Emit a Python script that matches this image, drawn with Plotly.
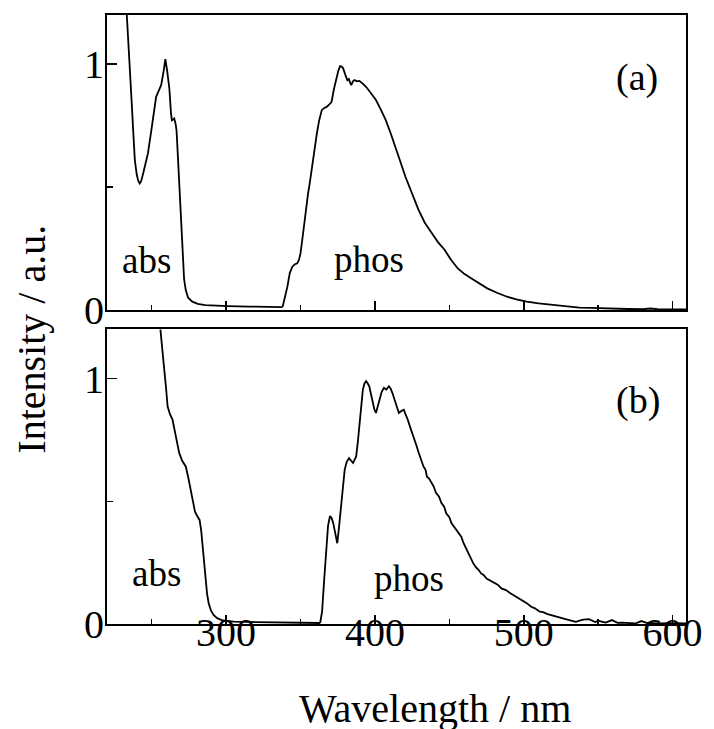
import plotly.graph_objects as go

# ---------------- data ----------------
abs_a_x = [226, 228, 230, 233.3, 234.5, 235.5, 236.5, 237.5, 238.7, 240, 241, 242, 243, 244.5, 246,
           247.5, 250, 253, 255, 256.4, 258, 259.2, 260.5, 261.9, 263, 263.6, 264.5, 265.2, 266,
           266.7, 267.5, 268.5, 269.6, 270.7, 271.8, 272.9, 274.5, 277.3, 281, 286, 295, 301.5,
           315, 330, 338]
abs_a_y = [2.2, 1.9, 1.6, 1.2, 1.05, 0.94, 0.854, 0.74, 0.61, 0.55, 0.525, 0.515, 0.525, 0.56, 0.6,
           0.637, 0.74, 0.867, 0.895, 0.915, 0.97, 1.02, 0.97, 0.90, 0.80, 0.772, 0.775, 0.779, 0.76,
           0.732, 0.64, 0.515, 0.36, 0.203, 0.125, 0.081, 0.05, 0.034, 0.025, 0.02, 0.017, 0.016,
           0.014, 0.012, 0.012]

phos_a_x = [338, 339.5, 341.2, 342.8, 344.5, 346, 347.8, 349, 350, 351.5, 353.3, 355, 356.2, 357.7,
            359.3, 361, 362.5, 364.3, 366, 367.6, 369.2, 370.9, 372.5, 374.2, 375.5, 376.6, 377.6,
            378.6, 379.5, 380.5, 381.5, 382.5, 383.3, 384.1, 385.2, 386.3, 388, 389.6, 392, 394,
            397, 400.7, 404, 407.3, 410.5, 413.9, 417, 420.5, 425, 429.3, 433.5, 438.1, 442.5,
            446.9, 451, 455.7, 460, 464.6, 470, 475.5, 482, 488.8, 495, 502, 510, 519.6, 528,
            537.3, 545, 552.7, 560, 570, 580, 585, 590, 600, 609]
phos_a_y = [0.013, 0.05, 0.095, 0.15, 0.176, 0.185, 0.19, 0.205, 0.23, 0.3, 0.393, 0.47, 0.515, 0.583,
            0.65, 0.718, 0.77, 0.813, 0.822, 0.826, 0.835, 0.847, 0.9, 0.948, 0.975, 0.992, 0.99,
            0.984, 0.965, 0.95, 0.935, 0.94, 0.925, 0.915, 0.93, 0.935, 0.93, 0.932, 0.92, 0.908,
            0.885, 0.854, 0.815, 0.772, 0.72, 0.664, 0.605, 0.542, 0.47, 0.407, 0.355, 0.312, 0.275,
            0.244, 0.205, 0.169, 0.147, 0.129, 0.107, 0.088, 0.07, 0.054, 0.043, 0.034, 0.027, 0.02,
            0.015, 0.01, 0.009, 0.007, 0.005, 0.004, 0.003, 0.006, 0.003, 0.002, 0.002]

abs_b_x = [250, 253, 255.9, 257.3, 258.6, 259.7, 260.7, 262.3, 264, 266, 268.5, 270.5, 272.9, 274.5,
           276.2, 277.7, 279.1, 280.6, 282.2, 283.3, 284.3, 285.2, 286.1, 287.2, 288.3, 289.8,
           291.6, 294, 297.1, 305, 320, 340, 355, 363.2]
abs_b_y = [1.6, 1.38, 1.2, 1.11, 1.037, 0.96, 0.887, 0.855, 0.833, 0.77, 0.697, 0.665, 0.642, 0.6,
           0.547, 0.49, 0.458, 0.44, 0.424, 0.38, 0.316, 0.25, 0.18, 0.125, 0.084, 0.055, 0.037,
           0.024, 0.016, 0.01, 0.008, 0.006, 0.005, 0.004]

phos_b_x = [363.2, 364.5, 365.8, 367.2, 368.5, 369.8, 371, 372, 373.5, 374.7, 375.8, 376.9, 378.3,
            379.7, 381, 382.6, 384, 385.3, 386.4, 387.4, 388.5, 389.6, 390.8, 391.9, 393, 394.1,
            395.2, 396.2, 397.4, 398.5, 399.6, 400.7, 401.7, 402.8, 404.5, 406.1, 407.7, 409.4,
            410.5, 411.7, 412.8, 413.9, 415, 416.1, 417.7, 419.4, 420.5, 421.6, 423.8, 426, 428,
            429.3, 431, 432.6, 434, 435, 436.5, 438.1, 439.5, 441, 443, 444.7, 446.5, 448, 450,
            451.4, 453, 454.7, 456.5, 458, 459.5, 461, 463, 464.6, 466, 468, 469.5, 471.2, 473,
            475, 477, 480.2, 482.5, 485, 488, 491, 493, 495, 497.5, 499.8, 502, 505, 507.5,
            510.8, 513, 516, 519, 521.8, 524.5, 528, 531, 535, 537.5, 540, 543.8, 546, 548, 550,
            552, 555, 559.3, 563, 566, 570, 575, 579, 583, 590, 595, 600, 609]
phos_b_y = [0.004, 0.05, 0.17, 0.3, 0.4, 0.44, 0.43, 0.411, 0.36, 0.329, 0.39, 0.465, 0.55, 0.629,
            0.66, 0.676, 0.665, 0.656, 0.67, 0.683, 0.74, 0.805, 0.88, 0.955, 0.98, 0.99, 0.98,
            0.968, 0.935, 0.901, 0.875, 0.86, 0.885, 0.914, 0.945, 0.962, 0.955, 0.969, 0.96,
            0.942, 0.92, 0.901, 0.875, 0.86, 0.868, 0.873, 0.855, 0.84, 0.8, 0.765, 0.725, 0.7,
            0.672, 0.642, 0.628, 0.6, 0.592, 0.574, 0.56, 0.535, 0.52, 0.493, 0.478, 0.45, 0.435,
            0.411, 0.398, 0.385, 0.372, 0.356, 0.33, 0.31, 0.285, 0.261, 0.248, 0.23, 0.222, 0.207,
            0.2, 0.185, 0.178, 0.166, 0.16, 0.145, 0.138, 0.125, 0.118, 0.108, 0.102, 0.091, 0.085,
            0.07, 0.064, 0.05, 0.048, 0.04, 0.036, 0.03, 0.026, 0.02, 0.016, 0.009, 0.014, 0.018,
            0.02, 0.012, 0.008, 0.013, 0.01, 0.006, 0.016, 0.005, 0.006, 0.003, 0.002, 0.012,
            0.004, 0.002, 0.003, 0.003, 0.002]

x_tickvals = [300, 400, 500, 600]
y_tickvals = [0, 1]
panel_labels = ["(a)", "(b)"]
curve_labels = ["abs", "phos"]

FONT = "Liberation Serif"
line = dict(color="black", width=1.8)

fig = go.Figure()
fig.add_trace(go.Scatter(x=abs_a_x, y=abs_a_y, mode="lines", line=line, xaxis="x2", yaxis="y2"))
fig.add_trace(go.Scatter(x=phos_a_x, y=phos_a_y, mode="lines", line=line, xaxis="x2", yaxis="y2"))
fig.add_trace(go.Scatter(x=abs_b_x, y=abs_b_y, mode="lines", line=line, xaxis="x", yaxis="y"))
fig.add_trace(go.Scatter(x=phos_b_x, y=phos_b_y, mode="lines", line=line, xaxis="x", yaxis="y"))

xcommon = dict(range=[220, 609], tickvals=x_tickvals, ticks="inside", ticklen=9, tickwidth=1.5,
               tickcolor="black", showline=True, linecolor="black", linewidth=2, mirror=True,
               showgrid=False, zeroline=False, ticklabelstandoff=-28,
               minor=dict(tickvals=[250, 350, 450, 550], ticks="inside", ticklen=5,
                          tickwidth=1.5, tickcolor="black"))
ycommon = dict(range=[0, 1.2], tickvals=y_tickvals, ticks="inside", ticklen=10, tickwidth=1.5,
               tickcolor="black", showline=True, linecolor="black", linewidth=2, mirror=True,
               showgrid=False, zeroline=False, ticklabelstandoff=-7,
               minor=dict(tickvals=[0.5], ticks="inside", ticklen=6, tickwidth=1.5,
                          tickcolor="black"))

fig.update_layout(
    width=714, height=729,
    margin=dict(l=107, r=19, t=15, b=105),
    paper_bgcolor="white", plot_bgcolor="white",
    showlegend=False,
    font=dict(family=FONT, size=40, color="black"),
    xaxis=dict(domain=[0, 1], anchor="y", **xcommon),
    yaxis=dict(domain=[0, 0.4836], anchor="x", **ycommon),
    xaxis2=dict(domain=[0, 1], anchor="y2", matches="x", showticklabels=False, **xcommon),
    yaxis2=dict(domain=[0.5156, 1], anchor="x2", **ycommon),
)

ann = []
# panel labels
ann.append(dict(x=576, y=0.945, xref="x2", yref="y2", text=panel_labels[0], showarrow=False,
                font=dict(size=38)))
ann.append(dict(x=577, y=0.911, xref="x", yref="y", text=panel_labels[1], showarrow=False,
                font=dict(size=38)))
# curve labels
ann.append(dict(x=246.7, y=0.20, xref="x2", yref="y2", text=curve_labels[0], showarrow=False,
                font=dict(size=37)))
ann.append(dict(x=396.2, y=0.207, xref="x2", yref="y2", text=curve_labels[1], showarrow=False,
                font=dict(size=37)))
ann.append(dict(x=253, y=0.204, xref="x", yref="y", text=curve_labels[0], showarrow=False,
                font=dict(size=37)))
ann.append(dict(x=422.7, y=0.184, xref="x", yref="y", text=curve_labels[1], showarrow=False,
                font=dict(size=37)))
# axis titles
ann.append(dict(x=(440.6 - 107) / 588, y=(624 - 708) / 609, xref="paper", yref="paper",
                text="Wavelength / nm", showarrow=False, font=dict(size=40),
                xanchor="center", yanchor="middle"))
ann.append(dict(x=(29.5 - 107) / 588, y=(624 - 339) / 609, xref="paper", yref="paper",
                text="Intensity / a.u.", showarrow=False, font=dict(size=40), textangle=-90,
                xanchor="center", yanchor="middle"))
fig.update_layout(annotations=ann)

fig.write_html(
    "out.html",
    config={"displayModeBar": False, "staticPlot": True},
    post_script="document.body.style.margin='0';document.documentElement.style.overflow='hidden';",
)
